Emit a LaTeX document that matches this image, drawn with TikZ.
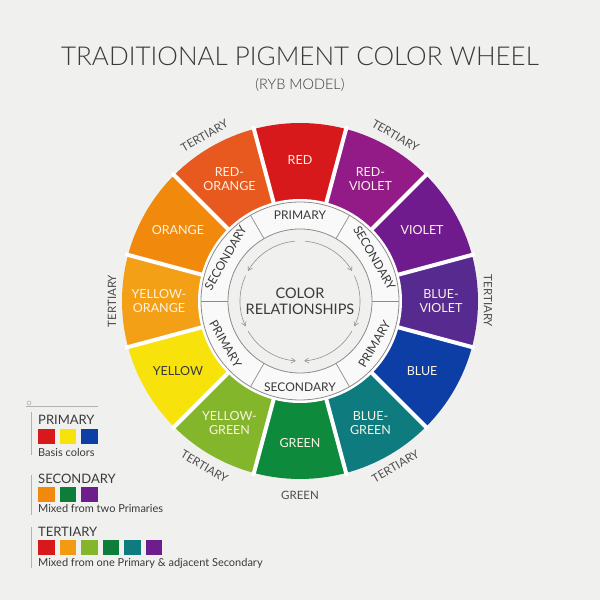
\documentclass[tikz,border=0pt]{standalone}
\usepackage{fontspec}
\setmainfont{Lato}
\newfontfamily\titlefont{Lato}[UprightFont=* Light]
\usetikzlibrary{arrows.meta}
\definecolor{bg}{HTML}{F0F0EF}
\definecolor{ink}{HTML}{3A3A3A}
\definecolor{ringline}{HTML}{8C8C8C}
\definecolor{cream}{HTML}{FBF3E4}
\definecolor{cR}{HTML}{D8191C}
\definecolor{cRV}{HTML}{921B88}
\definecolor{cV}{HTML}{701B8D}
\definecolor{cBV}{HTML}{572A90}
\definecolor{cB}{HTML}{0D3EA6}
\definecolor{cBG}{HTML}{0E7B7F}
\definecolor{cG}{HTML}{0D8A3B}
\definecolor{cYG}{HTML}{84B62C}
\definecolor{cY}{HTML}{F8E20C}
\definecolor{cYO}{HTML}{F4A016}
\definecolor{cO}{HTML}{F18A0C}
\definecolor{cRO}{HTML}{E8591F}
\definecolor{lgG}{HTML}{0D7D3A}
\definecolor{lgP}{HTML}{6E1D8D}
\definecolor{lgO}{HTML}{F29A12}
\tikzset{
  seglabel/.style={text=cream, align=center, font=\fontsize{12.5}{13.5}\selectfont, inner sep=0pt},
  ringlabel/.style={text=ink, font=\fontsize{12}{13}\selectfont, inner sep=0pt},
  outerlabel/.style={text=ink!90, font=\fontsize{11.5}{12}\selectfont, inner sep=0pt},
  legtitle/.style={text=ink, font=\fontsize{13}{14}\selectfont, anchor=base west, inner sep=0pt},
  legtext/.style={text=ink, font=\fontsize{11}{12}\selectfont, anchor=base west, inner sep=0pt},
  swatch/.style={minimum width=16.5pt, minimum height=14.5pt, inner sep=0pt, anchor=south west, draw=none},
  legline/.style={draw=gray!60, line width=0.6pt},
  flowarc/.style={draw=gray!85, line width=0.6pt},
  flowtip/.style={-{Straight Barb[length=4pt,width=5pt]}}
}
\begin{document}
\begin{tikzpicture}[x=1pt,y=1pt]
\useasboundingbox[fill=bg] (0,0) rectangle (600,600);
% title
\node[text=ink, font=\titlefont\fontsize{26}{28}\selectfont, inner sep=0pt] (title) at (300,544) {TRADITIONAL PIGMENT COLOR WHEEL};
\node[text=ink, font=\titlefont\fontsize{14.5}{15}\selectfont, inner sep=0pt] (subtitle) at (300,515) {(RYB MODEL)};
% wheel
\begin{scope}[shift={(300,299)}]
\coordinate (C) at (0,0);
\foreach \a/\c in {90/cR,60/cRV,30/cV,0/cBV,-30/cB,-60/cBG,-90/cG,-120/cYG,-150/cY,180/cYO,150/cO,120/cRO}{
  \fill[\c] (\a-15:100) -- (\a-15:178) arc[start angle=\a-15,end angle=\a+15,radius=178] -- (\a+15:100) arc[start angle=\a+15,end angle=\a-15,radius=100] -- cycle;
}
\foreach \a in {0,30,...,330}{
  \draw[white, line width=4pt] (\a+15:98) -- (\a+15:181);
}
\fill[white] (C) circle[radius=102];
\draw[fill=white!60!bg, draw=ringline, line width=0.8pt] (C) circle[radius=99];
\foreach \a in {0,60,...,300}{
  \draw[ringline, line width=0.7pt] (\a:72) -- (\a:99);
}
\draw[fill=bg, draw=ringline, line width=0.8pt] (C) circle[radius=72];
% segment labels
\node[seglabel] (lR) at (90:141) {RED};
\node[seglabel] (lRV) at (60:141) {RED-\\VIOLET};
\node[seglabel] (lV) at (30:141) {VIOLET};
\node[seglabel] (lBV) at (0:141) {BLUE-\\VIOLET};
\node[seglabel] (lB) at (-30:141) {BLUE};
\node[seglabel] (lBG) at (-60:141) {BLUE-\\GREEN};
\node[seglabel] (lG) at (-90:142) {GREEN};
\node[seglabel] (lYG) at (-120:141) {YELLOW-\\GREEN};
\node[seglabel, text=ink] (lY) at (-150:141) {YELLOW};
\node[seglabel] (lYO) at (180:141) {YELLOW-\\ORANGE};
\node[seglabel] (lO) at (150:141) {ORANGE};
\node[seglabel] (lRO) at (120:141) {RED-\\ORANGE};
% ring labels
\node[ringlabel] (r1) at (90:86) {PRIMARY};
\node[ringlabel, rotate=-60] (r2) at (30:86) {SECONDARY};
\node[ringlabel, rotate=60] (r3) at (-30:86) {PRIMARY};
\node[ringlabel] (r4) at (-90:86) {SECONDARY};
\node[ringlabel, rotate=-60] (r5) at (-150:86) {PRIMARY};
\node[ringlabel, rotate=60] (r6) at (150:86) {SECONDARY};
% outer labels
\node[outerlabel, rotate=30] (t1) at (120:191) {TERTIARY};
\node[outerlabel, rotate=-30] (t2) at (60:191) {TERTIARY};
\node[outerlabel, rotate=-90] (t3) at (0:188) {TERTIARY};
\node[outerlabel, rotate=90] (t4) at (180:188) {TERTIARY};
\node[outerlabel, rotate=30] (t5) at (-60:191) {TERTIARY};
\node[outerlabel, rotate=-30] (t6) at (-120:191) {TERTIARY};
\node[outerlabel] (g1) at (-90:194) {GREEN};
% center
\node[text=ink, align=center, font=\fontsize{14.5}{16}\selectfont, inner sep=0pt] (center) at (0,0) {COLOR\\RELATIONSHIPS};
% flow arcs
\draw[flowarc, flowtip] (95:60) arc[start angle=95,end angle=150,radius=60];
\draw[flowarc, flowtip] (155:60) arc[start angle=155,end angle=205,radius=60];
\draw[flowarc, flowtip] (210:60) arc[start angle=210,end angle=266,radius=60];
\draw[flowarc, flowtip] (85:60) arc[start angle=85,end angle=30,radius=60];
\draw[flowarc, flowtip] (25:60) arc[start angle=25,end angle=-25,radius=60];
\draw[flowarc, flowtip] (-30:60) arc[start angle=-30,end angle=-86,radius=60];
\end{scope}
% legend
\coordinate (lgA) at (26,194);
\coordinate (lgB) at (98,194);
\draw[legline] (lgA) -- (lgB);
\draw[legline] (lgA) ++(3,3) circle[radius=2];
\coordinate (v1a) at (31,188); \coordinate (v1b) at (31,145);
\coordinate (v2a) at (31,125); \coordinate (v2b) at (31,85);
\coordinate (v3a) at (31,73); \coordinate (v3b) at (31,32);
\draw[legline] (v1a) -- (v1b);
\draw[legline] (v2a) -- (v2b);
\draw[legline] (v3a) -- (v3b);
\node[legtitle] (pT) at (38,175) {PRIMARY};
\node[swatch, fill=cR] (p1) at (38,156) {};
\node[swatch, fill=cY] (p2) at (59.5,156) {};
\node[swatch, fill=cB] (p3) at (81,156) {};
\node[legtext] (pX) at (38,143.5) {Basis colors};
\node[legtitle] (sT) at (38,116) {SECONDARY};
\node[swatch, fill=cO] (s1) at (38,98) {};
\node[swatch, fill=lgG] (s2) at (59.5,98) {};
\node[swatch, fill=lgP] (s3) at (81,98) {};
\node[legtext] (sX) at (38,87) {Mixed from two Primaries};
\node[legtitle] (tT) at (38,63) {TERTIARY};
\node[swatch, fill=cR] (q1) at (38,45) {};
\node[swatch, fill=lgO] (q2) at (59.5,45) {};
\node[swatch, fill=cYG] (q3) at (81,45) {};
\node[swatch, fill=lgG] (q4) at (102.5,45) {};
\node[swatch, fill=cBG] (q5) at (124,45) {};
\node[swatch, fill=lgP] (q6) at (145.5,45) {};
\node[legtext] (tX) at (38,34) {Mixed from one Primary \& adjacent Secondary};
\end{tikzpicture}
\end{document}
